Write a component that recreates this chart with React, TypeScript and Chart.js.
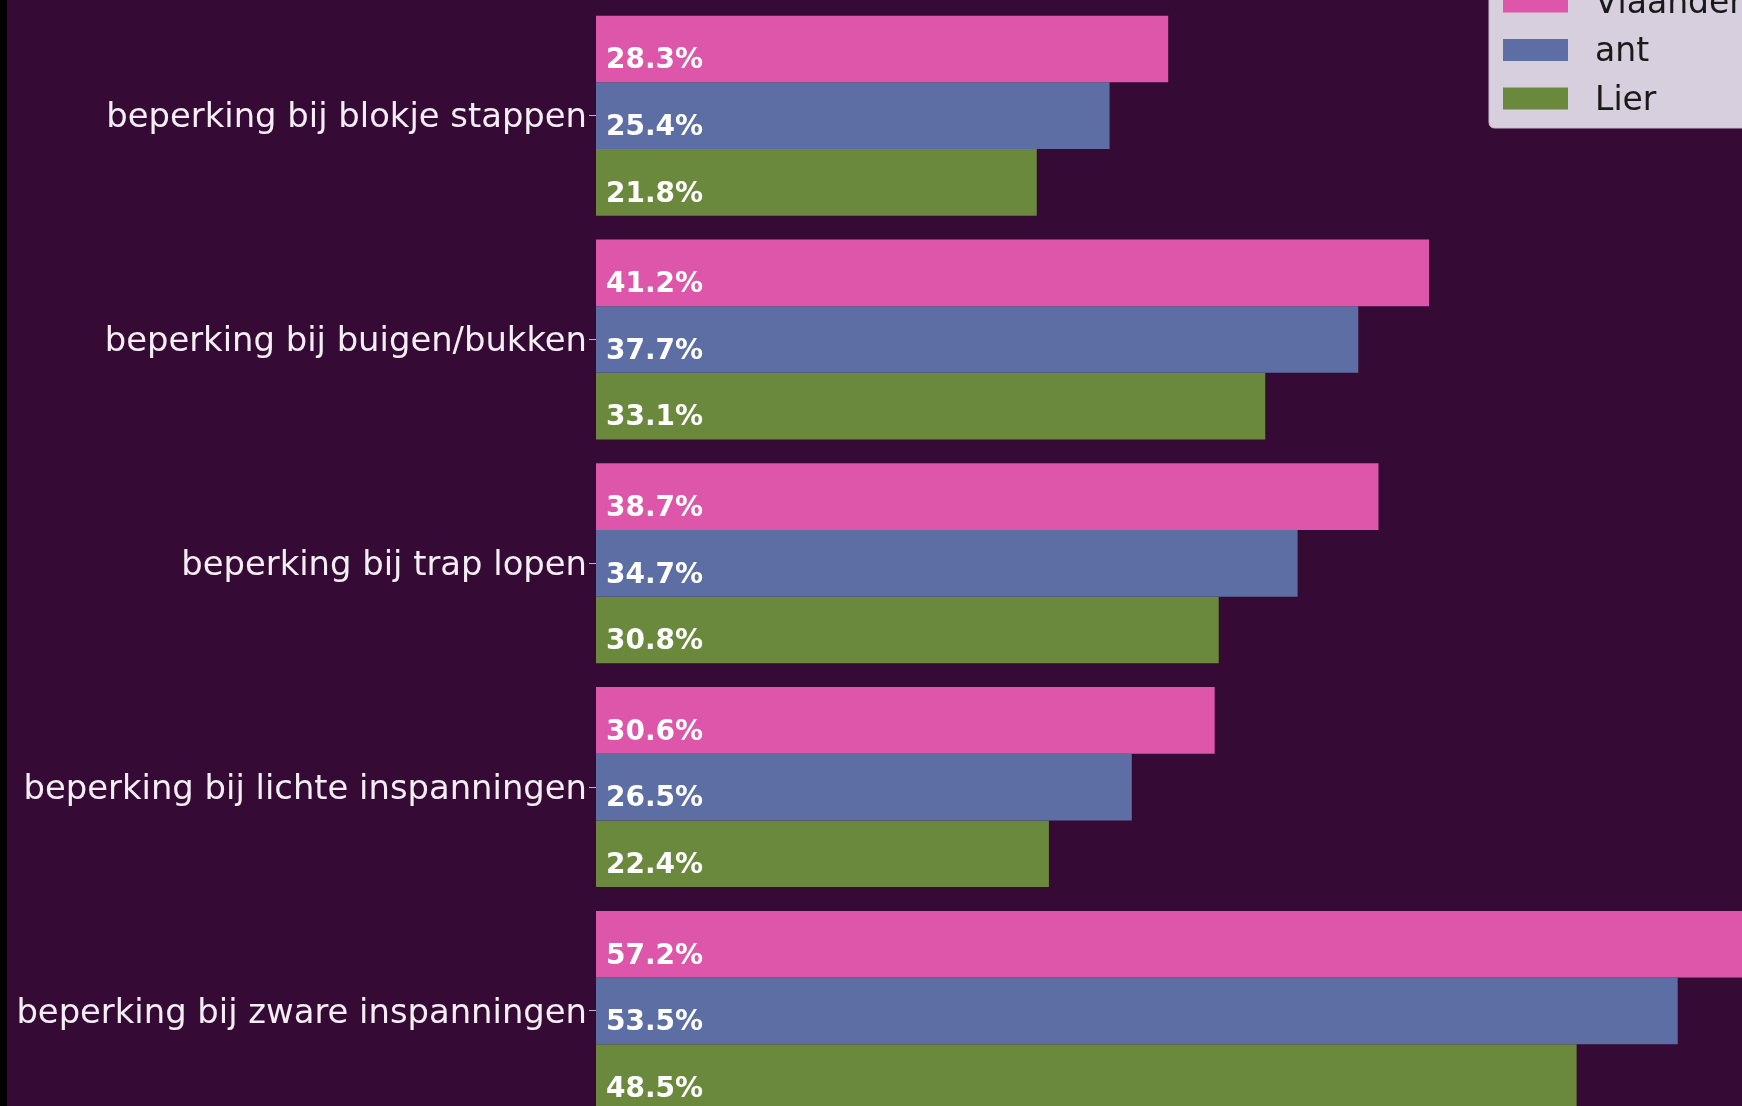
import React, { useEffect, useRef } from "react";
import { Chart, registerables } from "chart.js";

Chart.register(...registerables);

const categories = [
  "beperking bij blokje stappen",
  "beperking bij buigen/bukken",
  "beperking bij trap lopen",
  "beperking bij lichte inspanningen",
  "beperking bij zware inspanningen",
];
const seriesNames = ["Vlaanderen", "ant", "Lier"];
const vlaanderen = [28.3, 41.2, 38.7, 30.6, 57.2];
const antValues = [25.4, 37.7, 34.7, 26.5, 53.5];
const lier = [21.8, 33.1, 30.8, 22.4, 48.5];
const seriesColors = ["#dd56aa", "#5d6ea5", "#6a893d"];

const BG = "#350b35";

const bgPlugin = {
  id: "bgPlugin",
  beforeDraw(chart: any) {
    const { ctx, width, height } = chart;
    ctx.save();
    ctx.fillStyle = BG;
    ctx.fillRect(0, 0, width, height);
    ctx.fillStyle = "#000000";
    ctx.fillRect(0, 0, 7, height);
    ctx.restore();
  },
};

const labelPlugin = {
  id: "labelPlugin",
  afterDatasetsDraw(chart: any) {
    const { ctx } = chart;
    ctx.save();
    ctx.font = "bold 28px 'DejaVu Sans'";
    ctx.fillStyle = "#ffffff";
    ctx.textAlign = "left";
    ctx.textBaseline = "middle";
    chart.data.datasets.forEach((ds: any, di: number) => {
      const meta = chart.getDatasetMeta(di);
      meta.data.forEach((bar: any, i: number) => {
        const v = ds.data[i] as number;
        ctx.fillText(v.toFixed(1) + "%", bar.base + 10, bar.y + 12);
      });
    });
    ctx.restore();
  },
};

const legendPlugin = {
  id: "customLegend",
  afterDraw(chart: any) {
    const { ctx } = chart;
    ctx.save();
    const x0 = 1489;
    const y0 = -30;
    const w = 300;
    const h = 158;
    const r = 6;
    ctx.beginPath();
    ctx.moveTo(x0 + r, y0);
    ctx.lineTo(x0 + w, y0);
    ctx.lineTo(x0 + w, y0 + h);
    ctx.lineTo(x0 + r, y0 + h);
    ctx.quadraticCurveTo(x0, y0 + h, x0, y0 + h - r);
    ctx.lineTo(x0, y0 + r);
    ctx.closePath();
    ctx.fillStyle = "#d8cfde";
    ctx.fill();
    ctx.strokeStyle = "#c8bccc";
    ctx.lineWidth = 1;
    ctx.stroke();
    const baselines = [12.5, 61, 109.5];
    ctx.font = "33px 'DejaVu Sans'";
    ctx.textAlign = "left";
    ctx.textBaseline = "alphabetic";
    chart.data.datasets.forEach((ds: any, i: number) => {
      const b = baselines[i];
      ctx.fillStyle = ds.backgroundColor;
      ctx.fillRect(1503, b - 22, 65, 22);
      ctx.fillStyle = "#1a1a1a";
      ctx.fillText(ds.label, 1595, b);
    });
    ctx.restore();
  },
};

export default function App() {
  const canvasRef = useRef<HTMLCanvasElement | null>(null);

  useEffect(() => {
    const canvas = canvasRef.current;
    if (!canvas) return;
    const seriesData = [vlaanderen, antValues, lier];
    const chart = new Chart(canvas, {
      type: "bar",
      data: {
        labels: categories,
        datasets: seriesNames.map((name, i) => ({
          label: name,
          data: seriesData[i],
          backgroundColor: seriesColors[i],
          borderWidth: 0,
          categoryPercentage: 0.8937,
          barPercentage: 1.0,
        })),
      },
      options: {
        indexAxis: "y",
        responsive: false,
        animation: false,
        devicePixelRatio: 1,
        layout: { padding: { top: 3.8, bottom: 1.2, left: 0, right: 0 } },
        plugins: {
          legend: { display: false },
          tooltip: { enabled: false },
        },
        scales: {
          x: {
            type: "linear",
            display: false,
            min: 0,
            max: 56.68,
          },
          y: {
            type: "category",
            offset: true,
            border: { display: false },
            grid: {
              display: true,
              offset: false,
              drawOnChartArea: false,
              drawTicks: true,
              tickLength: 7,
              color: "#bbbbbb",
              lineWidth: 1,
            },
            ticks: {
              color: "#f4eef4",
              padding: 2,
              labelOffset: 3,
              font: { family: "'DejaVu Sans'", size: 33.8 },
            },
            afterFit(scale: any) {
              scale.width = 596;
              scale.paddingTop = 0;
              scale.paddingBottom = 0;
            },
          },
        },
      },
      plugins: [bgPlugin, labelPlugin, legendPlugin],
    } as any);
    return () => chart.destroy();
  }, []);

  return (
    <div
      style={{
        position: "fixed",
        left: 0,
        top: 0,
        width: 1742,
        height: 1106,
        overflow: "hidden",
        background: BG,
      }}
    >
      <canvas ref={canvasRef} width={1742} height={1124} style={{ display: "block", width: 1742, height: 1124 }} />
    </div>
  );
}
